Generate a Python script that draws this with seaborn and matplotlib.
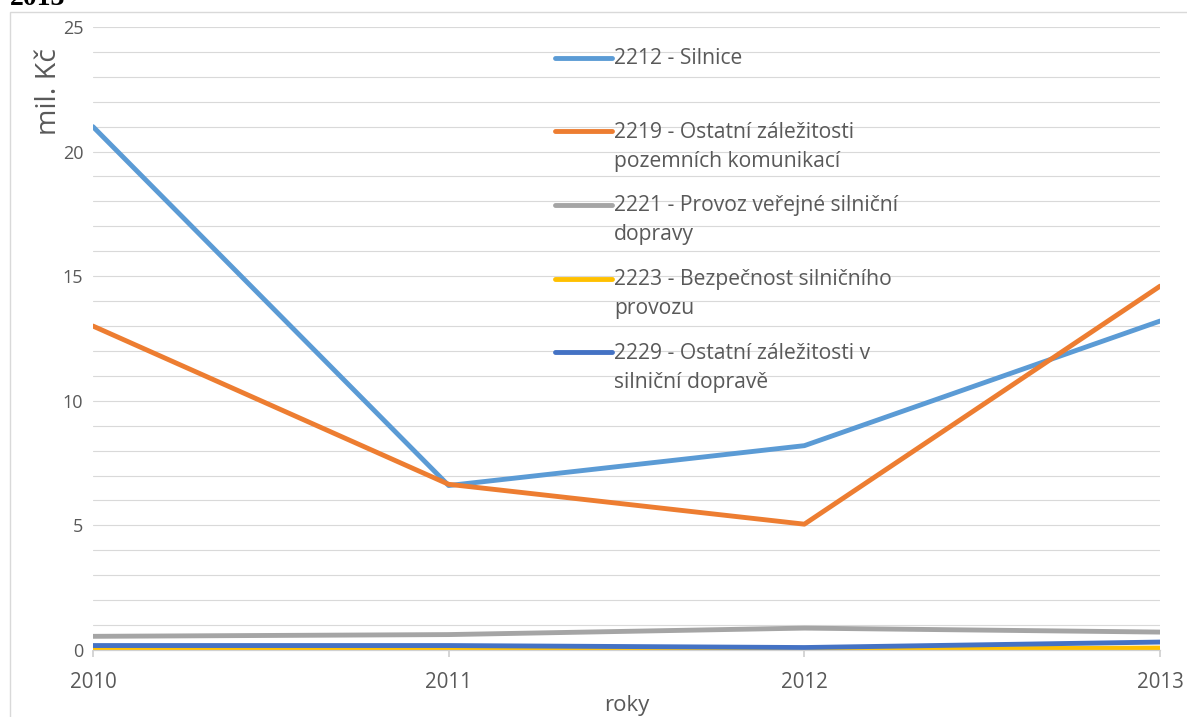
import pandas as pd
import matplotlib.pyplot as plt
import seaborn as sns
from matplotlib.patches import Rectangle

# values (mil. Kč)
roky = [2010, 2011, 2012, 2013]
silnice = [21.0, 6.6, 8.2, 13.2]
ostatni_komunikace = [13.0, 6.65, 5.05, 14.6]
provoz_dopravy = [0.55, 0.62, 0.88, 0.72]
bezpecnost = [0.02, 0.02, 0.03, 0.08]
ostatni_doprava = [0.18, 0.18, 0.1, 0.32]

nazvy = [
    "2212 - Silnice",
    "2219 - Ostatní záležitosti\npozemních komunikací",
    "2221 - Provoz veřejné silniční\ndopravy",
    "2223 - Bezpečnost silničního\nprovozu",
    "2229 - Ostatní záležitosti v\nsilniční dopravě",
]
barvy = ["#5B9BD5", "#ED7D31", "#A5A5A5", "#FFC000", "#4472C4"]

rady = [silnice, ostatni_komunikace, provoz_dopravy, bezpecnost, ostatni_doprava]
df = pd.DataFrame({
    "rok": roky * len(nazvy),
    "hodnota": [v for r in rady for v in r],
    "polozka": [n for n in nazvy for _ in roky],
})

sns.set_theme(style="white")
plt.rcParams["font.family"] = ["Open Sans", "DejaVu Sans"]

fig = plt.figure(figsize=(11.87, 7.17), dpi=100)
ax = fig.add_axes([0.0783, 0.0934, 0.899, 0.869])

sns.lineplot(data=df, x="rok", y="hodnota", hue="polozka", hue_order=nazvy,
             palette=dict(zip(nazvy, barvy)), linewidth=3.5, legend=False, ax=ax)

ax.set_xlim(2010, 2013)
ax.set_ylim(0, 25)
ax.set_xticks(roky)
ax.set_xticklabels([str(r) for r in roky])
ax.set_yticks([0, 5, 10, 15, 20, 25])
ax.set_yticks(range(0, 26), minor=True)
ax.grid(True, which="both", axis="y", color="#d9d9d9", linewidth=0.8)
ax.set_axisbelow(True)

for s in ["left", "right", "top"]:
    ax.spines[s].set_visible(False)
ax.spines["bottom"].set_color("#d0d0d0")
ax.spines["bottom"].set_linewidth(0.9)

ax.tick_params(axis="y", which="both", length=0, labelsize=13, labelcolor="#595959", pad=7)
ax.tick_params(axis="x", length=5, color="#d0d0d0", direction="out", bottom=True,
               labelsize=14.8, labelcolor="#595959", pad=11)

ax.set_xlabel("roky", fontsize=16, color="#595959", labelpad=1.5)
ax.set_ylabel("mil. Kč", fontsize=20.5, color="#595959")
ax.yaxis.set_label_coords(-0.028, 0.897)

# legend like Excel: two-line slot per entry, handle at first line
fs = 15.2
ls = 1.5
leg_labels = [nazvy[0] + "\n"] + nazvy[1:]
leg = ax.legend(ax.lines[:len(nazvy)], leg_labels, loc="upper left",
                bbox_to_anchor=(0.433, 0.966), frameon=False, fontsize=fs,
                handlelength=2.7, handletextpad=0.1, borderpad=0,
                borderaxespad=0, labelspacing=1.12)
for t in leg.get_texts():
    t.set_color("#595959")
    t.set_linespacing(ls)
shift = 0.5 * ls * fs * 1.02
for h in leg.legend_handles:
    y = h.get_ydata()
    h.set_ydata([v + shift for v in y])
    h.set_linewidth(3.5)

# chart border and clipped heading above it
fig.patches.append(Rectangle((10 / 1187, -0.01), 1.2, 1 - 12 / 717 + 0.01,
                             transform=fig.transFigure, fill=False,
                             edgecolor="#d9d9d9", linewidth=1))
fig.text(0.008, 0.993, "2013", fontsize=20, fontweight="bold",
         family="Liberation Serif", va="baseline", ha="left", color="black")

fig.savefig("out.png", dpi=100)
